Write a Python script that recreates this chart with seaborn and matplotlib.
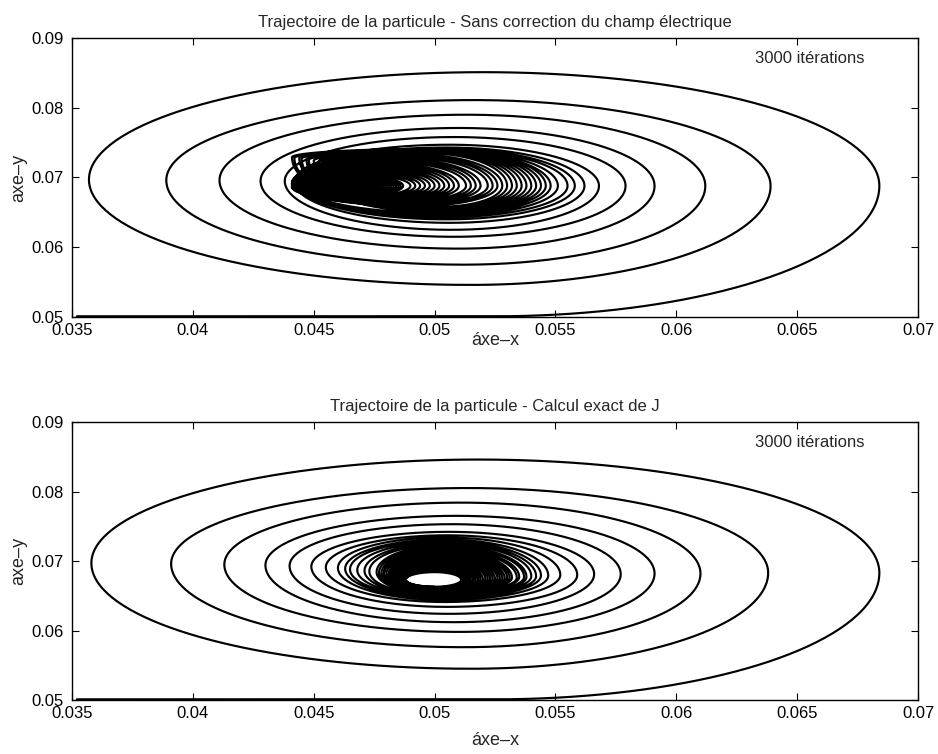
import numpy as np
import pandas as pd
import matplotlib
matplotlib.use("Agg")
import matplotlib.pyplot as plt
import seaborn as sns

# ---------------- data ----------------
titles = ["Trajectoire de la particule - Sans correction du champ électrique",
          "Trajectoire de la particule - Calcul exact de J"]
note = "3000 itérations"
x_ticks = [0.035, 0.04, 0.045, 0.05, 0.055, 0.06, 0.065, 0.07]
x_tick_labels = ["0.035", "0.04", "0.045", "0.05", "0.055", "0.06", "0.065", "0.07"]
y_ticks = [0.05, 0.06, 0.07, 0.08, 0.09]
y_tick_labels = ["0.05", "0.06", "0.07", "0.08", "0.09"]

# starting point of the trajectory (bottom-left) and first lowest point
start_x = [0.0352, 0.0525]
start_y = [0.0501, 0.0501]

# Plot 1 : one entry per turn of the spiral (extreme points of each loop)
p1_right_x = [0.0684, 0.0639, 0.0612, 0.0591, 0.0579, 0.0568, 0.0562, 0.0558, 0.0555, 0.0551,
              0.0548, 0.0546, 0.0544, 0.0542, 0.0540, 0.0538, 0.0536, 0.0534, 0.0532, 0.0530,
              0.0528, 0.0526, 0.0524, 0.0522, 0.0519, 0.0517, 0.0515, 0.0513, 0.0510, 0.0508,
              0.0506, 0.0504, 0.0502, 0.0500, 0.0498, 0.0496, 0.0494, 0.0492, 0.0490, 0.0487,
              0.0486, 0.0485, 0.0484, 0.0483, 0.0482, 0.0481, 0.0480, 0.0479, 0.0478, 0.0477,
              0.0476, 0.0475, 0.0474, 0.0473]
p1_right_y = [0.0688, 0.0688, 0.0688, 0.0688, 0.0688, 0.0688, 0.0688, 0.0688, 0.0688, 0.0688,
              0.0688, 0.0688, 0.0688, 0.0688, 0.0688, 0.0688, 0.0688, 0.0688, 0.0688, 0.0688,
              0.0688, 0.0688, 0.0688, 0.0688, 0.0688, 0.0688, 0.0688, 0.0688, 0.0688, 0.0688,
              0.0688, 0.0688, 0.0688, 0.0688, 0.0688, 0.0688, 0.0688, 0.0688, 0.0688, 0.0688,
              0.0687, 0.0687, 0.0687, 0.0687, 0.0687, 0.0687, 0.0687, 0.0687, 0.0688, 0.0688,
              0.0688, 0.0688, 0.0688, 0.0688]
p1_top_y = [0.0851, 0.0811, 0.0790, 0.0771, 0.0758, 0.0747, 0.0743, 0.0741, 0.0740, 0.0739,
            0.0738, 0.0741, 0.0740, 0.0740, 0.0739, 0.0738, 0.0738, 0.0737, 0.0736, 0.0735,
            0.0733, 0.0731, 0.0730, 0.0728, 0.0726, 0.0725, 0.0723, 0.0721, 0.0719, 0.0718,
            0.0716, 0.0714, 0.0712, 0.0711, 0.0709, 0.0708, 0.0706, 0.0705, 0.0703, 0.0702,
            0.0703, 0.0702, 0.0701, 0.0700, 0.0699, 0.0698, 0.0697, 0.0696, 0.0695, 0.0694,
            0.0693, 0.0692, 0.0691, 0.0690]
p1_top_x = [0.0520, 0.0516, 0.0513, 0.0510, 0.0508, 0.0506, 0.0505, 0.0504, 0.0503, 0.0503,
            0.0502, 0.0499, 0.0499, 0.0498, 0.0498, 0.0498, 0.0497, 0.0497, 0.0497, 0.0496,
            0.0492, 0.0491, 0.0490, 0.0489, 0.0487, 0.0486, 0.0485, 0.0484, 0.0482, 0.0481,
            0.0480, 0.0479, 0.0478, 0.0477, 0.0476, 0.0474, 0.0473, 0.0472, 0.0470, 0.0468,
            0.0464, 0.0464, 0.0464, 0.0463, 0.0463, 0.0463, 0.0462, 0.0462, 0.0462, 0.0461,
            0.0461, 0.0461, 0.0460, 0.0460]
p1_left_x = [0.0357, 0.0389, 0.0411, 0.0428, 0.0438, 0.0442, 0.0443, 0.0443, 0.0443, 0.0444,
             0.0444, 0.0441, 0.0442, 0.0444, 0.0445, 0.0447, 0.0448, 0.0450, 0.0452, 0.0454,
             0.0442, 0.0441, 0.0442, 0.0441, 0.0442, 0.0442, 0.0441, 0.0442, 0.0441, 0.0442,
             0.0442, 0.0441, 0.0442, 0.0441, 0.0442, 0.0441, 0.0442, 0.0441, 0.0441, 0.0442,
             0.0441, 0.0441, 0.0442, 0.0441, 0.0441, 0.0442, 0.0441, 0.0442, 0.0441, 0.0441,
             0.0442, 0.0441, 0.0441, 0.0442]
p1_left_y = [0.0697, 0.0696, 0.0696, 0.0695, 0.0695, 0.0694, 0.0693, 0.0692, 0.0692, 0.0691,
             0.0691, 0.0729, 0.0728, 0.0728, 0.0727, 0.0726, 0.0725, 0.0724, 0.0723, 0.0722,
             0.0690, 0.0692, 0.0689, 0.0691, 0.0690, 0.0688, 0.0691, 0.0689, 0.0690, 0.0688,
             0.0690, 0.0689, 0.0688, 0.0691, 0.0689, 0.0690, 0.0688, 0.0690, 0.0689, 0.0688,
             0.0687, 0.0687, 0.0688, 0.0686, 0.0687, 0.0687, 0.0686, 0.0687, 0.0688, 0.0687,
             0.0688, 0.0688, 0.0688, 0.0688]
p1_bottom_y = [0.0546, 0.0575, 0.0598, 0.0615, 0.0625, 0.0635, 0.0640, 0.0643, 0.0645, 0.0647,
               0.0649, 0.0650, 0.0651, 0.0652, 0.0653, 0.0654, 0.0655, 0.0656, 0.0657, 0.0658,
               0.0659, 0.0660, 0.0661, 0.0662, 0.0663, 0.0664, 0.0665, 0.0666, 0.0667, 0.0668,
               0.0669, 0.0669, 0.0670, 0.0671, 0.0672, 0.0672, 0.0673, 0.0674, 0.0675, 0.0675,
               0.0669, 0.0671, 0.0672, 0.0674, 0.0675, 0.0676, 0.0678, 0.0679, 0.0680, 0.0682,
               0.0683, 0.0684, 0.0686, 0.0687]
p1_bottom_x = [0.0515, 0.0512, 0.0510, 0.0508, 0.0507, 0.0506, 0.0505, 0.0504, 0.0503, 0.0503,
               0.0502, 0.0502, 0.0502, 0.0502, 0.0502, 0.0502, 0.0502, 0.0502, 0.0502, 0.0502,
               0.0492, 0.0491, 0.0490, 0.0489, 0.0487, 0.0486, 0.0485, 0.0484, 0.0482, 0.0481,
               0.0480, 0.0479, 0.0478, 0.0477, 0.0476, 0.0474, 0.0473, 0.0472, 0.0470, 0.0468,
               0.0464, 0.0464, 0.0464, 0.0463, 0.0463, 0.0463, 0.0462, 0.0462, 0.0462, 0.0461,
               0.0461, 0.0461, 0.0460, 0.0460]
# the last loops of plot 1 shrink around the left lobe
p1_top_y[40:] = [0.0703, 0.0702, 0.0701, 0.0700, 0.0699, 0.0698, 0.0697, 0.0696, 0.0695, 0.0694,
                 0.0692, 0.0691, 0.0690, 0.0689]

# Plot 2 : one entry per turn of the spiral
p2_right_x = [0.0684, 0.0638, 0.0610, 0.0591, 0.0577, 0.0566, 0.0559, 0.0552, 0.0547, 0.0544,
              0.0542, 0.0540, 0.0538, 0.0537, 0.0535, 0.0534, 0.0532, 0.0531, 0.0530, 0.0529,
              0.0528, 0.0527, 0.0526, 0.0525, 0.0524, 0.0523, 0.0522, 0.0521, 0.0520, 0.0519,
              0.0518, 0.0518, 0.0517, 0.0516, 0.0516, 0.0515, 0.0514, 0.0514, 0.0513, 0.0513,
              0.0512, 0.0512, 0.0511]
p2_right_y = [0.0683, 0.0683, 0.0682, 0.0682, 0.0681, 0.0681, 0.0680, 0.0680, 0.0679, 0.0679,
              0.0678, 0.0678, 0.0677, 0.0677, 0.0677, 0.0676, 0.0676, 0.0676, 0.0676, 0.0675,
              0.0675, 0.0675, 0.0675, 0.0674, 0.0674, 0.0674, 0.0674, 0.0674, 0.0673, 0.0673,
              0.0673, 0.0673, 0.0673, 0.0673, 0.0673, 0.0673, 0.0673, 0.0673, 0.0673, 0.0673,
              0.0673, 0.0673, 0.0673]
p2_top_y = [0.0846, 0.0805, 0.0784, 0.0765, 0.0753, 0.0742, 0.0737, 0.0734, 0.0731, 0.0729,
            0.0727, 0.0725, 0.0723, 0.0721, 0.0719, 0.0717, 0.0716, 0.0714, 0.0713, 0.0711,
            0.0710, 0.0708, 0.0707, 0.0706, 0.0705, 0.0704, 0.0703, 0.0702, 0.0700, 0.0699,
            0.0698, 0.0697, 0.0696, 0.0695, 0.0694, 0.0693, 0.0692, 0.0691, 0.0690, 0.0689,
            0.0688, 0.0686, 0.0684]
p2_top_x = [0.0518, 0.0514, 0.0511, 0.0509, 0.0507, 0.0506, 0.0505, 0.0504, 0.0504, 0.0503,
            0.0503, 0.0503, 0.0502, 0.0502, 0.0502, 0.0502, 0.0501, 0.0501, 0.0501, 0.0501,
            0.0501, 0.0501, 0.0501, 0.0500, 0.0500, 0.0500, 0.0500, 0.0500, 0.0500, 0.0500,
            0.0500, 0.0500, 0.0500, 0.0500, 0.0500, 0.0500, 0.0500, 0.0500, 0.0500, 0.0500,
            0.0500, 0.0500, 0.0500]
p2_left_x = [0.0358, 0.0391, 0.0413, 0.0430, 0.0440, 0.0449, 0.0455, 0.0460, 0.0463, 0.0465,
             0.0468, 0.0471, 0.0473, 0.0476, 0.0477, 0.0478, 0.0479, 0.0479, 0.0480, 0.0481,
             0.0481, 0.0482, 0.0482, 0.0483, 0.0483, 0.0484, 0.0484, 0.0485, 0.0485, 0.0485,
             0.0486, 0.0486, 0.0486, 0.0487, 0.0487, 0.0487, 0.0488, 0.0488, 0.0488, 0.0488,
             0.0488, 0.0488, 0.0488]
p2_left_y = [0.0697, 0.0696, 0.0695, 0.0694, 0.0693, 0.0692, 0.0691, 0.0690, 0.0689, 0.0688,
             0.0687, 0.0686, 0.0685, 0.0684, 0.0683, 0.0682, 0.0681, 0.0681, 0.0680, 0.0679,
             0.0679, 0.0678, 0.0678, 0.0677, 0.0677, 0.0676, 0.0676, 0.0676, 0.0675, 0.0675,
             0.0675, 0.0674, 0.0674, 0.0674, 0.0674, 0.0673, 0.0673, 0.0673, 0.0673, 0.0673,
             0.0673, 0.0673, 0.0673]
p2_bottom_y = [0.0545, 0.0576, 0.0598, 0.0612, 0.0624, 0.0634, 0.0641, 0.0644, 0.0646, 0.0648,
               0.0649, 0.0650, 0.0651, 0.0652, 0.0653, 0.0654, 0.0654, 0.0655, 0.0655, 0.0656,
               0.0656, 0.0657, 0.0657, 0.0658, 0.0658, 0.0659, 0.0659, 0.0659, 0.0660, 0.0660,
               0.0660, 0.0660, 0.0661, 0.0661, 0.0661, 0.0661, 0.0662, 0.0662, 0.0662, 0.0662,
               0.0662, 0.0663, 0.0663]
p2_bottom_x = [0.0515, 0.0512, 0.0510, 0.0508, 0.0506, 0.0505, 0.0504, 0.0504, 0.0503, 0.0503,
               0.0503, 0.0502, 0.0502, 0.0502, 0.0502, 0.0501, 0.0501, 0.0501, 0.0501, 0.0501,
               0.0501, 0.0501, 0.0500, 0.0500, 0.0500, 0.0500, 0.0500, 0.0500, 0.0500, 0.0500,
               0.0500, 0.0500, 0.0500, 0.0500, 0.0500, 0.0500, 0.0500, 0.0500, 0.0500, 0.0500,
               0.0500, 0.0500, 0.0500]


# ---------------- build the trajectory from the loop extremes ----------------
def quarter(cx, cy, ax_, by_, t0, t1, n=80):
    t = np.linspace(t0, t1, n)
    return cx + ax_ * np.cos(t), cy + by_ * np.sin(t)


def trajectory(R, Ry, T, Tx, L, Ly, B, Bx):
    n = min(len(R), len(Ry), len(T), len(Tx), len(L), len(Ly), len(B), len(Bx))
    xs = [np.array(start_x)]
    ys = [np.array(start_y)]
    pbx, pby = start_x[-1], start_y[-1]
    for i in range(n):
        segs = [
            quarter(pbx, Ry[i], R[i] - pbx, Ry[i] - pby, -np.pi / 2, 0),
            quarter(Tx[i], Ry[i], R[i] - Tx[i], T[i] - Ry[i], 0, np.pi / 2),
            quarter(Tx[i], Ly[i], Tx[i] - L[i], T[i] - Ly[i], np.pi / 2, np.pi),
            quarter(Bx[i], Ly[i], Bx[i] - L[i], Ly[i] - B[i], np.pi, 3 * np.pi / 2),
        ]
        for sx, sy in segs:
            xs.append(sx)
            ys.append(sy)
        pbx, pby = Bx[i], B[i]
    x = np.concatenate(xs)
    y = np.concatenate(ys)
    return pd.DataFrame({"x": x, "y": y})


df1 = trajectory(p1_right_x, p1_right_y, p1_top_y, p1_top_x, p1_left_x, p1_left_y, p1_bottom_y, p1_bottom_x)
df2 = trajectory(p2_right_x, p2_right_y, p2_top_y, p2_top_x, p2_left_x, p2_left_y, p2_bottom_y, p2_bottom_x)

# ---------------- drawing ----------------
sns.set_style("ticks")
plt.rcParams["font.family"] = ["Liberation Sans", "DejaVu Sans"]
plt.rcParams["axes.linewidth"] = 1.0

fig = plt.figure(figsize=(9.38, 7.54), dpi=100)
ax1 = fig.add_axes([0.0768, 0.5796, 0.9019, 0.3700])
ax2 = fig.add_axes([0.0768, 0.0716, 0.9019, 0.3687])

for ax, df, title, lp in [(ax1, df1, titles[0], -4), (ax2, df2, titles[1], 8)]:
    sns.lineplot(data=df, x="x", y="y", sort=False, estimator=None, color="black",
                 linewidth=1.55, ax=ax, legend=False)
    ax.set_xlim(0.035, 0.07)
    ax.set_ylim(0.05, 0.09)
    ax.set_xticks(x_ticks)
    ax.set_xticklabels(x_tick_labels)
    ax.set_yticks(y_ticks)
    ax.set_yticklabels(y_tick_labels)
    ax.tick_params(direction="in", top=True, right=True, length=5, width=0.8,
                   labelsize=12, colors="black")
    ax.tick_params(axis="x", pad=4)
    ax.tick_params(axis="y", pad=6)
    for s in ax.spines.values():
        s.set_visible(True)
        s.set_color("black")
        s.set_linewidth(1.0)
    ax.set_title(title, fontsize=12, pad=8)
    ax.set_xlabel("áxe–x", fontsize=13, labelpad=lp)
    ax.set_ylabel("axe–y", fontsize=13, labelpad=3)
    ax.text(0.872, 0.925, note, transform=ax.transAxes, ha="center", va="center", fontsize=12)

fig.savefig("out.png", dpi=100, facecolor="white")
